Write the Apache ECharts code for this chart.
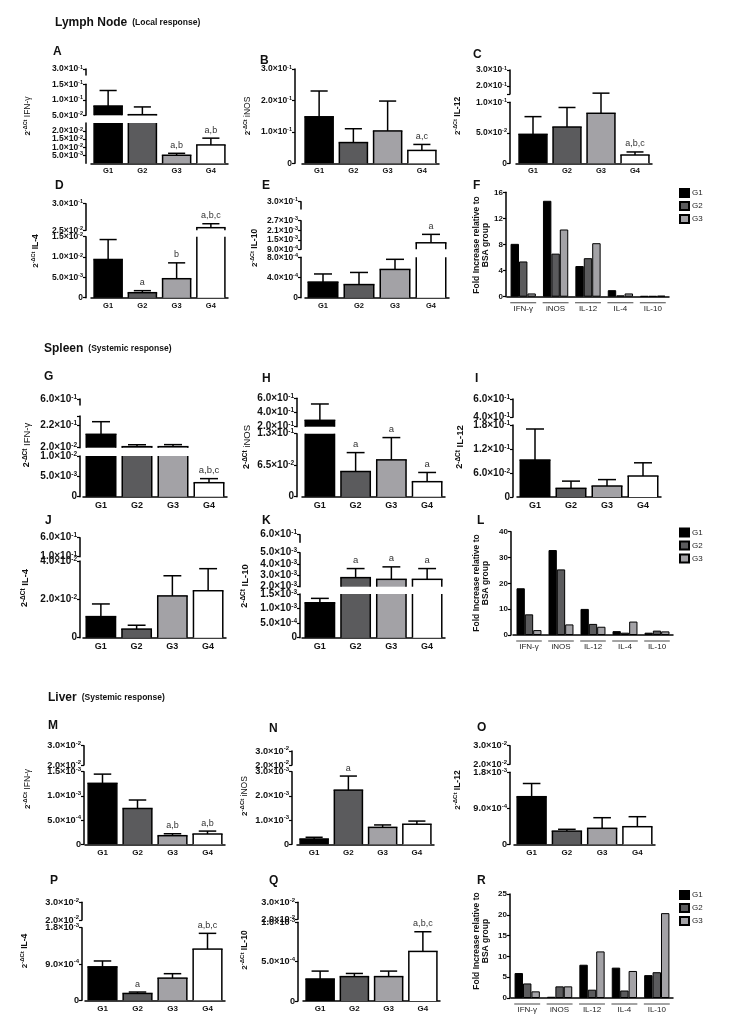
<!DOCTYPE html>
<html><head><meta charset="utf-8">
<script src="https://cdn.jsdelivr.net/npm/echarts@6/dist/echarts.min.js"></script>
<style>html,body{margin:0;padding:0;background:#fff}#c{width:729px;height:1020px}</style>
</head><body><div id="c"></div>
<script>
// ---------------- DATA ----------------
const GROUPS = ['G1', 'G2', 'G3', 'G4'];
const CYTOKINES = ['IFN-γ', 'iNOS', 'IL-12', 'IL-4', 'IL-10'];
const LEGEND_NAMES = ['G1', 'G2', 'G3'];

// A  Lymph node IFN-γ
const A_mean = [0.080, 0.052, 0.0050, 0.0114];
const A_sem = [0.050, 0.025, 0.0012, 0.0042];
const A_sig = ['', '', 'a,b', 'a,b'];
const A_breaks = [[0, 0.025], [0.05, 0.15], [0.2, 0.3]];
const A_ticks = [[0, 0.005, 0.01, 0.015, 0.02, 0.025], [0.05, 0.1, 0.15], [0.2, 0.3]];
// B  Lymph node iNOS
const B_mean = [0.148, 0.066, 0.103, 0.041];
const B_sem = [0.082, 0.044, 0.095, 0.019];
const B_sig = ['', '', '', 'a,c'];
const B_breaks = [[0, 0.3]];
const B_ticks = [[0, 0.1, 0.2, 0.3]];
// C  Lymph node IL-12
const C_mean = [0.0475, 0.0595, 0.082, 0.0136];
const C_sem = [0.029, 0.032, 0.033, 0.005];
const C_sig = ['', '', '', 'a,b,c'];
const C_breaks = [[0, 0.1], [0.15, 0.3]];
const C_ticks = [[0, 0.05, 0.1], [0.15, 0.2, 0.3]];
const C_labels = [[0, 0.05, 0.1], [0.2, 0.3]];
// D  Lymph node IL-4
const D_mean = [0.0094, 0.00123, 0.00467, 0.052];
const D_sem = [0.0049, 0.0005, 0.0039, 0.041];
const D_sig = ['', 'a', 'b', 'a,b,c'];
const D_breaks = [[0, 0.015], [0.025, 0.3]];
const D_ticks = [[0, 0.005, 0.01, 0.015], [0.025, 0.3]];
// E  Lymph node IL-10
const E_mean = [0.00031, 0.00026, 0.00056, 0.00131];
const E_sem = [0.00016, 0.00024, 0.00020, 0.00053];
const E_sig = ['', '', '', 'a'];
const E_breaks = [[0, 0.0008], [0.0009, 0.0027], [0.2, 0.3]];
const E_ticks = [[0, 0.0004, 0.0008], [0.0009, 0.0015, 0.0021, 0.0027], [0.2, 0.3]];
// F  Lymph node fold increase
const F_G1 = [8.1, 14.7, 4.7, 1.0, 0.1];
const F_G2 = [5.4, 6.6, 5.9, 0.2, 0.1];
const F_G3 = [0.5, 10.3, 8.2, 0.5, 0.15];
const F_ticks = [0, 4, 8, 12, 16];
// G  Spleen IFN-γ
const G_mean = [0.138, 0.029, 0.029, 0.00344];
const G_sem = [0.111, 0.017, 0.018, 0.0010];
const G_sig = ['', '', '', 'a,b,c'];
const G_breaks = [[0, 0.01], [0.02, 0.3], [0.4, 0.6]];
const G_ticks = [[0, 0.005, 0.01], [0.02, 0.22, 0.3], [0.4, 0.6]];
const G_labels = [[0, 0.005, 0.01], [0.02, 0.22], [0.4, 0.6]];
// H  Spleen iNOS
const H_mean = [0.29, 0.052, 0.076, 0.031];
const H_sem = [0.23, 0.039, 0.046, 0.019];
const H_sig = ['', 'a', 'a', 'a'];
const H_breaks = [[0, 0.13], [0.2, 0.6]];
const H_ticks = [[0, 0.065, 0.13], [0.2, 0.4, 0.6]];
// I  Spleen IL-12
const I_mean = [0.0925, 0.0217, 0.0275, 0.0525];
const I_sem = [0.0775, 0.018, 0.016, 0.033];
const I_sig = ['', '', '', ''];
const I_breaks = [[0, 0.18], [0.4, 0.6]];
const I_ticks = [[0, 0.06, 0.12, 0.18], [0.4, 0.6]];
// J  Spleen IL-4
const J_mean = [0.011, 0.0045, 0.0218, 0.0245];
const J_sem = [0.0066, 0.0020, 0.0105, 0.0115];
const J_sig = ['', '', '', ''];
const J_breaks = [[0, 0.04], [0.1, 0.6]];
const J_ticks = [[0, 0.02, 0.04], [0.1, 0.6]];
// K  Spleen IL-10
const K_mean = [0.0012, 0.0028, 0.00265, 0.00265];
const K_sem = [0.00015, 0.0008, 0.0011, 0.00095];
const K_sig = ['', 'a', 'a', 'a'];
const K_breaks = [[0, 0.0015], [0.002, 0.005], [0.4, 0.6]];
const K_ticks = [[0, 0.0005, 0.001, 0.0015], [0.002, 0.003, 0.004, 0.005], [0.4, 0.6]];
// L  Spleen fold increase
const L_G1 = [18.1, 32.9, 10.1, 1.5, 0.9];
const L_G2 = [8.0, 25.4, 4.3, 0.9, 1.7];
const L_G3 = [1.9, 4.1, 3.2, 5.2, 1.4];
const L_ticks = [0, 10, 20, 30, 40];
// M  Liver IFN-γ
const M_mean = [0.00126, 0.00074, 0.000178, 0.000213];
const M_sem = [0.00019, 0.000175, 0.00004, 0.00006];
const M_sig = ['', '', 'a,b', 'a,b'];
const M_breaks = [[0, 0.0015], [0.02, 0.03]];
const M_ticks = [[0, 0.0005, 0.001, 0.0015], [0.02, 0.03]];
// N  Liver iNOS
const N_mean = [0.00022, 0.00224, 0.0007, 0.00083];
const N_sem = [0.00007, 0.00058, 0.0001, 0.00013];
const N_sig = ['', 'a', '', ''];
const N_breaks = [[0, 0.003], [0.02, 0.03]];
const N_ticks = [[0, 0.001, 0.002, 0.003], [0.02, 0.03]];
// O  Liver IL-12
const O_mean = [0.00119, 0.00033, 0.0004, 0.00044];
const O_sem = [0.00033, 0.000045, 0.000265, 0.00025];
const O_sig = ['', '', '', ''];
const O_breaks = [[0, 0.0018], [0.02, 0.03]];
const O_ticks = [[0, 0.0009, 0.0018], [0.02, 0.03]];
// P  Liver IL-4
const P_mean = [0.00083, 0.00017, 0.00055, 0.00127];
const P_sem = [0.000145, 0.000035, 0.00011, 0.00039];
const P_sig = ['', 'a', '', 'a,b,c'];
const P_breaks = [[0, 0.0018], [0.02, 0.03]];
const P_ticks = [[0, 0.0009, 0.0018], [0.02, 0.03]];
// Q  Liver IL-10
const Q_mean = [0.00028, 0.00031, 0.00031, 0.00063];
const Q_sem = [0.0001, 0.00004, 0.00007, 0.00025];
const Q_sig = ['', '', '', 'a,b,c'];
const Q_breaks = [[0, 0.001], [0.02, 0.03]];
const Q_ticks = [[0, 0.0005, 0.001], [0.02, 0.03]];
// R  Liver fold increase
const R_G1 = [6.0, 0.3, 8.0, 7.3, 5.5];
const R_G2 = [3.5, 2.8, 2.0, 1.8, 6.2];
const R_G3 = [1.6, 2.8, 11.2, 6.5, 20.4];
const R_ticks = [0, 5, 10, 15, 20, 25];

// ---------------- LAYOUT (pixels) ----------------
const LAYOUT = {
  A: {sec: 0, axisX: 86, left: 91, width: 137, segY: [[163.3, 123], [115.3, 84.3], [75, 69]], name: [28, 116]},
  B: {sec: 0, axisX: 295, left: 302, width: 137, segY: [[163.3, 69]], name: [248, 116]},
  C: {sec: 0, axisX: 510, left: 516, width: 136, segY: [[163.3, 102.3], [94, 70]], name: [458, 116]},
  D: {sec: 0, axisX: 86, left: 91, width: 137, segY: [[297.7, 236.7], [230.3, 203.7]], name: [36, 251]},
  E: {sec: 0, axisX: 301, left: 305, width: 144, segY: [[297.7, 257.3], [249.3, 220.7], [209, 201.7]], name: [255, 248]},
  F: {sec: 0, axisX: 506, left: 507, width: 162, top: 192.3, bottom: 296.7, name: [481, 245], legend: [679, 188]},
  G: {sec: 1, axisX: 80, left: 83, width: 144, segY: [[496.7, 456], [447.7, 415.9], [405, 399]], name: [27, 445]},
  H: {sec: 1, axisX: 297, left: 302, width: 143, segY: [[496.7, 433.7], [426.7, 398.3]], name: [247, 447]},
  I: {sec: 1, axisX: 513, left: 517, width: 144, segY: [[497, 425], [417.3, 399]], name: [460, 447]},
  J: {sec: 1, axisX: 80, left: 83, width: 143, segY: [[637.7, 561], [556.7, 537.7]], name: [25, 588]},
  K: {sec: 1, axisX: 300, left: 302, width: 143, segY: [[637.7, 594], [586.7, 552.7], [542.3, 534.7]], name: [245, 586]},
  L: {sec: 1, axisX: 511, left: 513, width: 160, top: 531.7, bottom: 635, name: [481, 583], legend: [679, 527.5]},
  M: {sec: 2, axisX: 84, left: 85, width: 140, segY: [[844.3, 771.7], [765, 745.7]], name: [28, 789]},
  N: {sec: 2, axisX: 292, left: 297, width: 137, segY: [[844.3, 771.7], [765, 751]], name: [245, 796]},
  O: {sec: 2, axisX: 510, left: 514, width: 141, segY: [[844.3, 772.3], [764.3, 745.7]], name: [458, 790]},
  P: {sec: 2, axisX: 82, left: 85, width: 140, segY: [[1000.3, 927.7], [920, 902.3]], name: [25, 951]},
  Q: {sec: 2, axisX: 298, left: 303, width: 137, segY: [[1001, 922.3], [919.3, 902.3]], name: [245, 950]},
  R: {sec: 2, axisX: 510, left: 511, width: 162, top: 894, bottom: 998, name: [481, 941], legend: [679, 890]}
};
const LETTERS = {A: [53, 53], B: [260, 61.7], C: [473, 56], D: [55, 186.7], E: [262, 186.7], F: [473, 186.7],
  G: [44, 377.7], H: [262, 380], I: [475, 380], J: [45, 521.7], K: [262, 521.7], L: [477, 521.7],
  M: [48, 726.7], N: [269, 730], O: [477, 729], P: [50, 881.7], Q: [269, 881.7], R: [477, 881.7]};
// text sizes per section (lymph node, spleen, liver)
const SEC_FONT = [
  {tick: 8.5, exp: 5.5, cat: 7.5, name: 8.5, sig: 9},
  {tick: 10, exp: 6.5, cat: 9, name: 9.5, sig: 9.5},
  {tick: 9.2, exp: 6, cat: 8, name: 8.5, sig: 9}
];

// ---------------- STYLE ----------------
const FONT = "'Liberation Sans', Arial, Helvetica, sans-serif";
const BAR_COLORS = ['#000000', '#5b5b5d', '#a3a2a6', '#ffffff'];
const BAR_RATIO = 0.82;
function richTick(f) {
  return {
    m: {fontSize: f.tick, fontWeight: 'bold', color: '#111', fontFamily: FONT, lineHeight: f.tick + 1.5},
    e: {fontSize: f.exp, fontWeight: 'bold', color: '#111', fontFamily: FONT, lineHeight: f.exp, verticalAlign: 'top'}
  };
}
function sci(v) {
  if (Math.abs(v) < 1e-12) return '{m|0}';
  v = +v.toPrecision(6);
  const e = Math.floor(Math.log10(v) + 1e-9);
  const m = v / Math.pow(10, e);
  return '{m|' + m.toFixed(1) + '×10}{e|' + (e < 0 ? '-' : '') + Math.abs(e) + '}';
}

const option = {animation: false, textStyle: {fontFamily: FONT},
  grid: [], xAxis: [], yAxis: [], series: [], title: [], graphic: [], legend: []};

function renderBar(params, api) {
  const i = api.value(0), v = api.value(1);
  const cs = params.coordSys;
  const top = api.coord([i, v]), base = api.coord([i, 0]);
  const bw = api.size([1, 0])[0] * BAR_RATIO;
  const xl = top[0] - bw / 2, xr = top[0] + bw / 2;
  const yT = Math.max(top[1], cs.y), yB = Math.min(base[1], cs.y + cs.height);
  if (yB - yT < 0.3) return null;
  const st = {stroke: '#000', lineWidth: 1.5};
  const ch = [
    {type: 'rect', shape: {x: xl, y: yT, width: bw, height: yB - yT}, style: {fill: BAR_COLORS[i]}},
    {type: 'line', shape: {x1: xl, y1: yT, x2: xl, y2: yB}, style: st},
    {type: 'line', shape: {x1: xr, y1: yT, x2: xr, y2: yB}, style: st}
  ];
  if (top[1] >= cs.y - 0.01) ch.push({type: 'line', shape: {x1: xl - 0.75, y1: yT, x2: xr + 0.75, y2: yT}, style: st});
  return {type: 'group', children: ch};
}
function makeErr(sig, fs) {
  return function (params, api) {
    const i = api.value(0);
    const p0 = api.coord([i, api.value(1)]), p1 = api.coord([i, api.value(2)]);
    const cw = api.size([1, 0])[0] * 0.5;
    const st = {stroke: '#000', lineWidth: 1.5};
    const ch = [
      {type: 'line', shape: {x1: p0[0], y1: p0[1], x2: p0[0], y2: p1[1]}, style: st},
      {type: 'line', shape: {x1: p0[0] - cw / 2, y1: p1[1], x2: p0[0] + cw / 2, y2: p1[1]}, style: st}
    ];
    if (sig[i]) ch.push({type: 'text', x: p0[0], y: p1[1] - 8,
      style: {text: sig[i], fill: '#333', fontSize: fs, fontFamily: FONT, align: 'center', verticalAlign: 'middle'}});
    return {type: 'group', children: ch};
  };
}

function addBarPanel(id, mean, sem, sig, breaks, ticks, labels, gene, bold) {
  const L = LAYOUT[id];
  const f = SEC_FONT[L.sec];
  const rich = richTick(f);
  breaks.forEach((br, s) => {
    const [yb, yt] = L.segY[s];
    const gi = option.grid.length;
    option.grid.push({left: L.left, width: L.width, top: yt, height: yb - yt});
    option.xAxis.push({type: 'category', gridIndex: gi, data: GROUPS, show: s === 0,
      axisLine: {onZero: false, lineStyle: {color: '#000', width: 1.5}}, axisTick: {show: false},
      axisLabel: {margin: 4, fontSize: f.cat, fontWeight: 'bold', color: '#111', fontFamily: FONT}});
    option.yAxis.push({type: 'value', gridIndex: gi, min: br[0], max: br[1], offset: L.left - L.axisX,
      splitLine: {show: false},
      axisLine: {show: true, lineStyle: {color: '#000', width: 1.5}},
      axisTick: {show: true, length: 3, customValues: ticks[s], lineStyle: {color: '#000', width: 1.2}},
      axisLabel: {customValues: (labels || ticks)[s], formatter: sci, rich: rich, margin: 3}});
    option.series.push({type: 'custom', xAxisIndex: gi, yAxisIndex: gi, encode: {x: 0, y: 1},
      data: mean.map((v, i) => [i, v]), renderItem: renderBar, silent: true});
    const errData = [];
    mean.forEach((v, i) => { if (v >= br[0] && v <= br[1]) errData.push([i, v, v + sem[i]]); });
    option.series.push({type: 'custom', xAxisIndex: gi, yAxisIndex: gi, encode: {x: 0, y: 1}, z: 3,
      data: errData, renderItem: makeErr(sig, f.sig), silent: true});
  });
  option.graphic.push({type: 'text', x: L.name[0], y: L.name[1], rotation: Math.PI / 2,
    style: {text: '{n|2}{s|-ΔCt}{g| ' + gene + '}', align: 'center', verticalAlign: 'middle',
      rich: {n: {fontSize: f.name - 0.5, fontWeight: 'bold', fill: '#111', fontFamily: FONT, lineHeight: 11},
        s: {fontSize: f.exp, fontWeight: 'bold', fill: '#111', fontFamily: FONT, lineHeight: 6, verticalAlign: 'top'},
        g: {fontSize: f.name, fontWeight: bold ? 'bold' : 'normal', fill: '#111', fontFamily: FONT, lineHeight: 11}}}});
}

function renderUnderline(params, api) {
  const i = api.value(0);
  const p = api.coord([i, 0]);
  const w = api.size([1, 0])[0] * 0.8;
  return {type: 'line', shape: {x1: p[0] - w / 2, y1: p[1] + 6, x2: p[0] + w / 2, y2: p[1] + 6},
    style: {stroke: '#666', lineWidth: 1.2}};
}
function addGroupPanel(id, vals, ticks) {
  const L = LAYOUT[id];
  const gi = option.grid.length;
  option.grid.push({left: L.left, width: L.width, top: L.top, height: L.bottom - L.top});
  option.xAxis.push({type: 'category', gridIndex: gi, data: CYTOKINES,
    axisLine: {lineStyle: {color: '#000', width: 1.5}}, axisTick: {show: false},
    axisLabel: {margin: 8, fontSize: 8, color: '#222', fontFamily: FONT}});
  option.yAxis.push({type: 'value', gridIndex: gi, min: ticks[0], max: ticks[ticks.length - 1],
    interval: ticks[1] - ticks[0], offset: L.left - L.axisX, splitLine: {show: false},
    axisLine: {show: true, lineStyle: {color: '#000', width: 1.5}},
    axisTick: {show: true, length: 3, lineStyle: {color: '#000', width: 1.2}},
    axisLabel: {margin: 3, fontSize: 8, fontWeight: 'bold', color: '#111', fontFamily: FONT}});
  vals.forEach((arr, k) => {
    option.series.push({type: 'bar', name: LEGEND_NAMES[k], xAxisIndex: gi, yAxisIndex: gi, data: arr,
      barGap: '0%', barCategoryGap: '22%', silent: true,
      itemStyle: {color: BAR_COLORS[k], borderColor: '#000', borderWidth: 1}});
  });
  option.series.push({type: 'custom', xAxisIndex: gi, yAxisIndex: gi, encode: {x: 0, y: 1}, silent: true,
    data: CYTOKINES.map((c, i) => [i, 0]), renderItem: renderUnderline});
  option.legend.push({data: LEGEND_NAMES, orient: 'vertical', left: L.legend[0], top: L.legend[1],
    itemWidth: 9, itemHeight: 8, itemGap: 3, icon: 'rect', selectedMode: false, padding: 0,
    textStyle: {fontSize: 8, color: '#222', fontFamily: FONT, padding: [0, 0, 0, -2]}});
  option.graphic.push({type: 'text', x: L.name[0], y: L.name[1], rotation: Math.PI / 2,
    style: {text: 'Fold Increase relative to\nBSA group', align: 'center', verticalAlign: 'middle',
      fontSize: 8.5, fontWeight: 'bold', fill: '#111', fontFamily: FONT, lineHeight: 9}});
}

addBarPanel('A', A_mean, A_sem, A_sig, A_breaks, A_ticks, null, 'IFN-γ', false);
addBarPanel('B', B_mean, B_sem, B_sig, B_breaks, B_ticks, null, 'iNOS', false);
addBarPanel('C', C_mean, C_sem, C_sig, C_breaks, C_ticks, C_labels, 'IL-12', true);
addBarPanel('D', D_mean, D_sem, D_sig, D_breaks, D_ticks, null, 'IL-4', true);
addBarPanel('E', E_mean, E_sem, E_sig, E_breaks, E_ticks, null, 'IL-10', true);
addGroupPanel('F', [F_G1, F_G2, F_G3], F_ticks);
addBarPanel('G', G_mean, G_sem, G_sig, G_breaks, G_ticks, G_labels, 'IFN-γ', false);
addBarPanel('H', H_mean, H_sem, H_sig, H_breaks, H_ticks, null, 'iNOS', false);
addBarPanel('I', I_mean, I_sem, I_sig, I_breaks, I_ticks, null, 'IL-12', true);
addBarPanel('J', J_mean, J_sem, J_sig, J_breaks, J_ticks, null, 'IL-4', true);
addBarPanel('K', K_mean, K_sem, K_sig, K_breaks, K_ticks, null, 'IL-10', true);
addGroupPanel('L', [L_G1, L_G2, L_G3], L_ticks);
addBarPanel('M', M_mean, M_sem, M_sig, M_breaks, M_ticks, null, 'IFN-γ', false);
addBarPanel('N', N_mean, N_sem, N_sig, N_breaks, N_ticks, null, 'iNOS', false);
addBarPanel('O', O_mean, O_sem, O_sig, O_breaks, O_ticks, null, 'IL-12', true);
addBarPanel('P', P_mean, P_sem, P_sig, P_breaks, P_ticks, null, 'IL-4', true);
addBarPanel('Q', Q_mean, Q_sem, Q_sig, Q_breaks, Q_ticks, null, 'IL-10', true);
addGroupPanel('R', [R_G1, R_G2, R_G3], R_ticks);

// titles
const SECTIONS = [
  {main: 'Lymph Node', sub: '(Local response)', pos: [55, 14]},
  {main: 'Spleen', sub: '(Systemic response)', pos: [44, 339.5]},
  {main: 'Liver', sub: '(Systemic response)', pos: [48, 688.5]}
];
SECTIONS.forEach(s => option.title.push({text: '{a|' + s.main + '} {b|' + s.sub + '}', left: s.pos[0], top: s.pos[1], padding: 0,
  textStyle: {rich: {a: {fontSize: 12, fontWeight: 'bold', color: '#111', fontFamily: FONT},
    b: {fontSize: 8.5, fontWeight: 'bold', color: '#111', fontFamily: FONT}}}}));
Object.keys(LETTERS).forEach(k => option.title.push({text: k, left: LETTERS[k][0], top: LETTERS[k][1] - 7, padding: 0,
  textStyle: {fontSize: 12, fontWeight: 'bold', color: '#111', fontFamily: FONT}}));

const chart = echarts.init(document.getElementById('c'), null, {renderer: 'canvas'});
chart.setOption(option);
</script></body></html>
